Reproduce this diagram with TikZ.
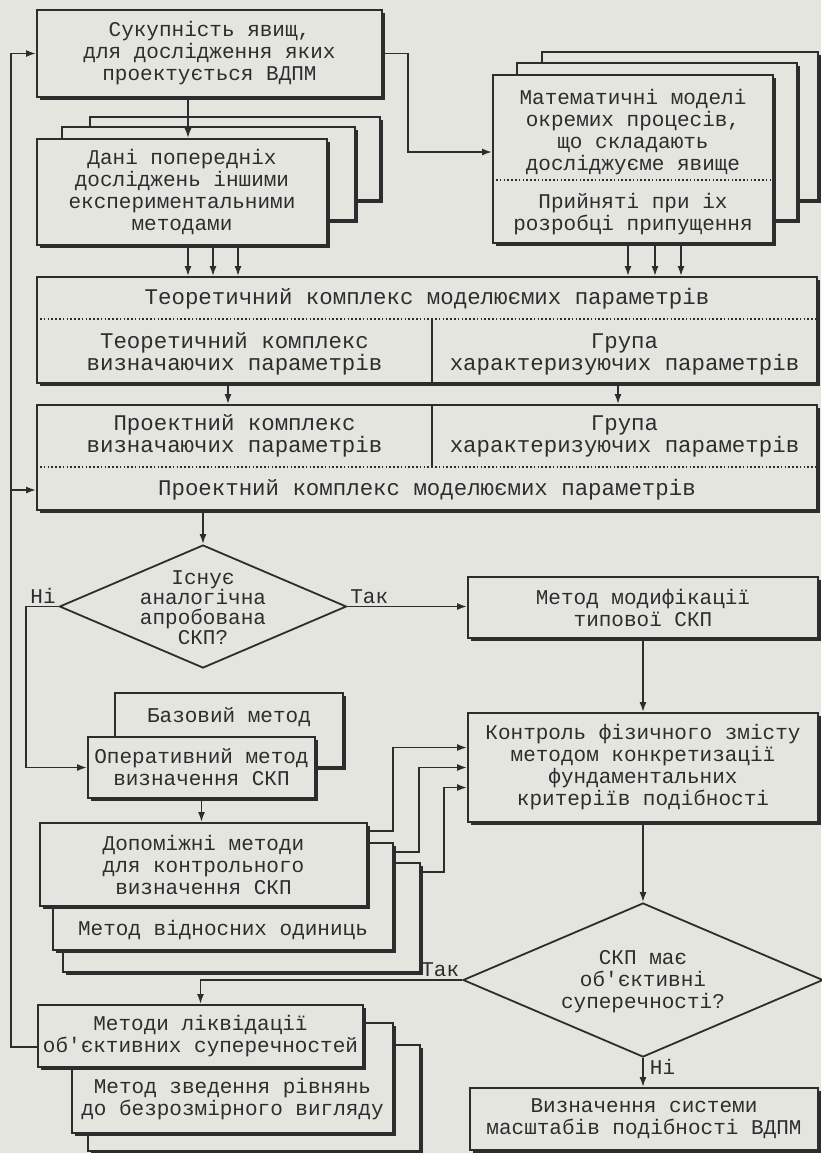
\documentclass[tikz,border=0pt]{standalone}
\usepackage{fontspec}
\setmonofont{Liberation Mono}
\usepackage{tikz}
\usetikzlibrary{positioning,arrows.meta,shapes.geometric,shadows}
\definecolor{paper}{RGB}{229,229,223}
\definecolor{ink}{RGB}{45,45,45}

\begin{document}
\begin{tikzpicture}[
    x=0.5pt, y=-0.5pt,
    font=\ttfamily\fontsize{10.5}{11}\selectfont,
    color=ink,
    line width=0.9pt,
    wh/.style 2 args={minimum width=#1*0.5pt, minimum height=#2*0.5pt},
    box/.style={draw, fill=paper, inner sep=0pt, align=center,
        drop shadow={shadow xshift=1.4pt, shadow yshift=-1.4pt, opacity=1, fill=ink}},
    txt/.style={inner sep=0pt, align=center},
    wide/.style={txt, font=\ttfamily\fontsize{11.2}{11}\selectfont},
    decision/.style={draw, diamond, fill=paper, inner sep=0pt},
    sep/.style={dash pattern=on 0.8pt off 1.1pt, line width=0.7pt},
    yn/.style={inner sep=1pt},
    >={Latex[length=5pt,width=3.5pt]}
]
\fill[paper] (0,0) rectangle (821,1153);
\useasboundingbox (0,0) rectangle (821,1153);

\node[box, wh={345}{87}] (sukup) at (209.5,53.5) {Сукупність явищ,\\для дослідження яких\\проектується ВДПМ};

\node[box, wh={290}{83}] (dani3) at (235,158.5) {};
\node[box, wh={293}{93}] (dani2) at (208.5,173.5) {};
\node[box, wh={290}{106}] (dani) at (182,192) {Дані попередніх\\досліджень іншими\\експериментальними\\методами};

\node[box, wh={276}{148}] (mat3) at (680,126) {};
\node[box, wh={280}{157}] (mat2) at (657,141.5) {};
\node[box, wh={280}{168}] (mat) at (633,159) {};
\node[txt] (matt) at (633,132) {Математичні моделі\\окремих процесів,\\що складають\\досліджуєме явище};
\node[txt] (matb) at (633,214) {Прийняті при іх\\розробці припущення};
\draw[sep] (mat.west |- 0,180) -- (mat.east |- 0,180);

\node[box, wh={780}{106}] (teor) at (427,330) {};
\node[wide] (teortop) at (427,299) {Теоретичний комплекс моделюємих параметрів};
\node[wide] (teorl) at (234.5,354) {Теоретичний комплекс\\визначаючих параметрів};
\node[wide] (teorr) at (624.5,354) {Група\\характеризуючих параметрів};
\draw[sep] (teor.west |- 0,319) -- (teor.east |- 0,319);
\draw (432,319) -- (teor.south -| 432,0);

\node[box, wh={780}{105}] (proj) at (427,457.5) {};
\node[wide] (projl) at (234.5,436) {Проектний комплекс\\визначаючих параметрів};
\node[wide] (projr) at (624.5,436) {Група\\характеризуючих параметрів};
\node[wide] (projbot) at (427,490) {Проектний комплекс моделюємих параметрів};
\draw[sep] (proj.west |- 0,467) -- (proj.east |- 0,467);
\draw (proj.north -| 432,0) -- (432,467);

\node[decision, wh={287}{123}] (q1) at (203,606.5) {};
\node[txt, font=\ttfamily\fontsize{10.5}{10}\selectfont] (q1t) at (203,608) {Існує\\аналогічна\\апробована\\СКП?};

\node[box, wh={350}{61}] (modif) at (643,607.5) {Метод модифікації\\типової СКП};

\node[box, wh={228}{74}] (base) at (229,730) {};
\node[txt] (baset) at (229,717) {Базовий метод};
\node[box, wh={227}{61}] (oper) at (201.5,767.5) {Оперативний метод\\визначення СКП};

\node[box, wh={350}{109}] (kontrol) at (643,767.5) {Контроль фізичного змісту\\методом конкретизації\\фундаментальних\\критеріїв подібності};

\node[box, wh={357}{109}] (dopom3) at (241.5,917.5) {};
\node[box, wh={340}{107}] (dopom2) at (223,896.5) {};
\node[txt] (vidnt) at (223,930) {Метод відносних одиниць};
\node[box, wh={327}{83}] (dopom) at (203.5,864.5) {Допоміжні методи\\для контрольного\\визначення СКП};

\node[decision, wh={360}{154}] (q2) at (643,980) {};
\node[txt] (q2t) at (643,982) {СКП має\\об'єктивні\\суперечності?};

\node[box, wh={332}{106}] (zved3) at (254,1098) {};
\node[box, wh={321}{110}] (zved) at (232.5,1078) {};
\node[txt] (zvedt) at (232.5,1099) {Метод зведення рівнянь\\до безрозмірного вигляду};
\node[box, wh={325}{62}] (likv) at (200.5,1036) {Методи ліквідації\\об'єктивних суперечностей};

\node[box, wh={348}{62}] (vyzn) at (644,1119) {Визначення системи\\масштабів подібності ВДПМ};

\coordinate (fb) at (12,0);

\draw[->] (sukup.south -| 188,0) -- (dani.north -| 188,0);
\draw[->] (sukup.east) -- ++(25,0) |- ([yshift=3.5pt]mat.west);
\foreach \x in {188,213,238}
  \draw[->] (dani.south -| \x,0) -- (teor.north -| \x,0);
\foreach \x in {628,655,681}
  \draw[->] (mat.south -| \x,0) -- (teor.north -| \x,0);
\foreach \x in {228,618}
  \draw[->] (teor.south -| \x,0) -- (proj.north -| \x,0);
\draw[->] (proj.south -| q1) -- (q1.north);

\draw[->] (q1.west) node[yn, above left] (no1) {Ні} -- ++(-33,0) |- (oper.west);
\draw[->] (q1.east) node[yn, above right] (yes1) {Так} -- (modif.west |- q1.east);
\draw[->] (modif) -- (kontrol);
\draw[->] (oper.south) -- (oper.south |- dopom.north);

\draw[->] ([yshift=-4.5pt]dopom.north east) -- ++(25,0) |- ([yshift=10pt]kontrol.west);
\draw[->] ([yshift=-5pt]dopom2.north east) -- ++(25,0) |- (kontrol.west);
\draw[->] ([yshift=-5pt]dopom3.north east) -- ++(23,0) |- ([yshift=-10pt]kontrol.west);

\draw[->] (kontrol) -- (q2);
\draw[->] (q2.west) node[yn, above left] (yes2) {Так} -| (likv.north);
\draw[->] (q2.south) -- node[yn, pos=0.3, right=2pt] (no2) {Ні} (vyzn.north -| q2.south);

% feedback
\draw[->] ([yshift=-5.5pt]likv.west) -- ++(-26,0) |- (sukup.west);
\draw[->] (fb |- projbot) -- (proj.west |- projbot);
\end{tikzpicture}
\end{document}
